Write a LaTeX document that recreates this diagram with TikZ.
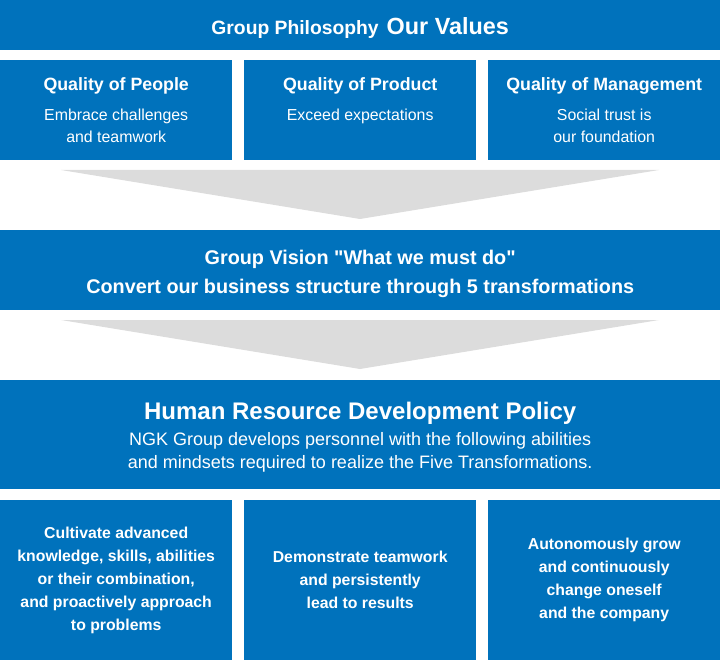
\documentclass[tikz,border=0pt]{standalone}
\usepackage{fontspec}
\setmainfont{Liberation Sans}
\definecolor{ngkblue}{HTML}{0072BC}
\definecolor{funnelgray}{HTML}{DCDCDC}
\newcommand\valuetitle{\bfseries\fontsize{17.8}{22}\selectfont}
\newcommand\policytitle{\bfseries\fontsize{24}{26}\selectfont}

\begin{document}
\begin{tikzpicture}[x=1pt, y=-1pt,
    panel/.style={fill=ngkblue, text=white, inner sep=0pt, anchor=north west, align=center},
    bar/.style={panel, minimum width=720pt},
    bartext/.style={text=white, inner sep=0pt, align=center},
    valuebox/.style={panel, minimum width=232pt, minimum height=100pt,
        font=\fontsize{15.9}{22}\selectfont},
    abilitybox/.style={panel, minimum width=232pt, minimum height=160pt,
        font=\bfseries\fontsize{15.8}{23}\selectfont},
    funnel/.style={fill=funnelgray}]
    \useasboundingbox (0,0) rectangle (720,660);
    % philosophy
    \node[bar, minimum height=50pt] (philosophy) at (0,0) {};
    \node[bartext, font=\bfseries] (philosophytext) at ([yshift=-2.5pt]philosophy.center)
        {\fontsize{19.3}{22}\selectfont Group Philosophy\hspace{8pt}\fontsize{23.4}{24}\selectfont Our Values};
    \node[valuebox] (people) at (0,60)
        {\valuetitle Quality of People\\[8pt] Embrace challenges\\and teamwork};
    \node[valuebox] (product) at (244,60)
        {\valuetitle Quality of Product\\[8pt] Exceed expectations\\\phantom{and teamwork}};
    \node[valuebox] (management) at (488,60)
        {\valuetitle Quality of Management\\[8pt] Social trust is\\our foundation};
    \fill[funnel] (61,170) -- (659,170) -- (360,219) -- cycle;
    % vision
    \node[bar, minimum height=80pt] (vision) at (0,230) {};
    \node[bartext, font=\bfseries\fontsize{19.8}{29}\selectfont] (visiontext)
        at ([yshift=-4pt]vision.center)
        {Group Vision \textquotedbl What we must do\textquotedbl\\
         Convert our business structure through 5 transformations};
    \fill[funnel] (61,320) -- (659,320) -- (360,369) -- cycle;
    % policy
    \node[bar, minimum height=109pt] (policy) at (0,380) {};
    \node[bartext, font=\fontsize{18}{23}\selectfont] (policytext)
        at ([yshift=-2.5pt]policy.center)
        {\policytitle Human Resource Development Policy\\[3pt]
         NGK Group develops personnel with the following abilities\\
         and mindsets required to realize the Five Transformations.};
    \node[abilitybox] (expertise) at (0,500)
        {Cultivate advanced\\knowledge, skills, abilities\\or their combination,\\
         and proactively approach\\to problems};
    \node[abilitybox] (teamwork) at (244,500)
        {Demonstrate teamwork\\and persistently\\lead to results};
    \node[abilitybox] (growth) at (488,500)
        {Autonomously grow\\and continuously\\change oneself\\and the company};
\end{tikzpicture}
\end{document}
